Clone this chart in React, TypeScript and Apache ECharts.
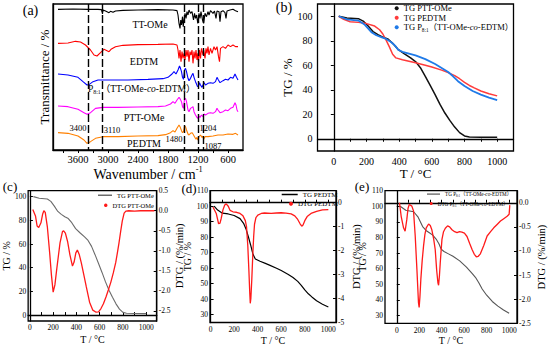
import React, { useEffect, useRef } from 'react';
import * as echarts from 'echarts';

const FONT = '"Liberation Serif", "Times New Roman", "Noto Sans CJK SC", serif';

// ---------- (a) FTIR spectra: [wavenumber cm-1, offset depth (a.u., grows downward)] ----------
const ftirTickValues = [3900, 3600, 3300, 3000, 2700, 2400, 2100, 1800, 1500, 1200, 900, 600];
const ftirLabelValues = [3600, 3000, 2400, 1800, 1200, 600];
const ftirMarkers = [3400, 3110, 1480, 1204, 1087];

const ftirTTOMe = [
  [4000, 28], [3700, 27], [3400, 28], [3200, 28], [3130, 29], [3110, 42], [3100, 30], [3050, 33], [2980, 38],
  [2950, 34], [2900, 37], [2850, 33], [2700, 31], [2400, 30], [2000, 29], [1700, 30], [1620, 32], [1600, 45],
  [1580, 70], [1560, 85], [1545, 60], [1530, 75], [1510, 50], [1495, 80], [1480, 60], [1460, 40], [1440, 55],
  [1420, 35], [1400, 45], [1380, 30], [1350, 40], [1320, 35], [1290, 60], [1270, 40], [1250, 55], [1230, 45],
  [1204, 70], [1180, 40], [1160, 55], [1140, 35], [1110, 60], [1087, 70], [1060, 40], [1030, 50], [1000, 35],
  [980, 45], [950, 32], [900, 40], [870, 33], [840, 55], [820, 33], [780, 35], [760, 65], [740, 35], [700, 32],
  [660, 38], [640, 55], [620, 33], [560, 30], [500, 28], [450, 32], [400, 35],
];
const ftirEDTM = [
  [4000, 130], [3800, 129], [3650, 124], [3550, 126], [3450, 135], [3350, 150], [3280, 165], [3220, 168],
  [3150, 158], [3080, 148], [3020, 152], [2980, 155], [2940, 148], [2850, 140], [2700, 136], [2400, 134],
  [2000, 133], [1700, 132], [1620, 135], [1600, 150], [1580, 175], [1560, 150], [1540, 185], [1520, 155],
  [1500, 175], [1480, 160], [1460, 180], [1440, 150], [1420, 170], [1400, 150], [1380, 185], [1360, 155],
  [1340, 165], [1320, 150], [1300, 190], [1280, 155], [1260, 175], [1240, 150], [1220, 180], [1204, 160],
  [1190, 185], [1170, 150], [1150, 175], [1130, 145], [1100, 165], [1087, 150], [1060, 175], [1040, 145],
  [1020, 160], [1000, 140], [980, 165], [950, 145], [920, 160], [880, 140], [850, 150], [820, 140], [790, 170],
  [770, 185], [750, 145], [700, 140], [650, 145], [600, 135], [550, 140], [500, 135], [450, 140], [400, 140],
];
const ftirP81 = [
  [4000, 222], [3800, 225], [3600, 232], [3500, 245], [3420, 255], [3380, 254], [3300, 245], [3200, 240],
  [3000, 240], [2600, 240], [2200, 238], [1900, 236], [1800, 232], [1720, 222], [1680, 215], [1640, 222],
  [1600, 210], [1570, 198], [1550, 205], [1530, 215], [1510, 232], [1490, 238], [1470, 210], [1450, 205],
  [1430, 215], [1400, 235], [1380, 242], [1350, 235], [1320, 225], [1300, 220], [1280, 232], [1250, 245],
  [1230, 252], [1210, 260], [1190, 258], [1170, 248], [1150, 255], [1120, 262], [1100, 255], [1080, 248],
  [1050, 255], [1000, 250], [950, 248], [900, 250], [850, 245], [820, 232], [800, 238], [760, 248], [700, 242],
  [650, 238], [600, 240], [550, 232], [500, 235], [460, 222], [430, 232], [400, 240],
];
const ftirPTTOMe = [
  [4000, 318], [3800, 320], [3600, 328], [3480, 338], [3420, 343], [3350, 338], [3250, 325], [3100, 322],
  [2800, 322], [2400, 321], [2000, 320], [1850, 318], [1750, 312], [1700, 305], [1660, 310], [1620, 300],
  [1580, 292], [1560, 296], [1530, 305], [1510, 320], [1490, 325], [1470, 298], [1450, 295], [1430, 305],
  [1400, 330], [1380, 335], [1350, 325], [1320, 322], [1300, 320], [1280, 335], [1250, 345], [1220, 352],
  [1204, 355], [1180, 348], [1160, 352], [1130, 345], [1100, 350], [1080, 342], [1050, 345], [1000, 340],
  [950, 338], [900, 340], [850, 335], [820, 325], [800, 330], [760, 338], [700, 335], [650, 330], [600, 332],
  [550, 325], [500, 322], [460, 308], [440, 315], [420, 330], [400, 335],
];
const ftirPEDTM = [
  [4000, 398], [3800, 400], [3600, 408], [3480, 420], [3420, 430], [3350, 425], [3250, 415], [3100, 410],
  [2800, 410], [2400, 408], [2000, 407], [1850, 404], [1750, 398], [1700, 392], [1660, 396], [1620, 385],
  [1580, 375], [1560, 380], [1530, 392], [1510, 398], [1490, 395], [1470, 378], [1450, 380], [1430, 390],
  [1400, 402], [1380, 405], [1350, 400], [1320, 398], [1300, 402], [1270, 410], [1240, 418], [1220, 412],
  [1204, 420], [1180, 410], [1150, 405], [1120, 412], [1100, 408], [1087, 418], [1060, 410], [1000, 410],
  [900, 408], [800, 405], [700, 405], [600, 402], [500, 403], [450, 400], [400, 405],
];

// ---------- TG curves: [T °C, TG %] ----------
const tgPTTOMe = [
  [30, 100], [80, 98.6], [150, 98], [180, 96], [210, 92], [240, 87.5], [270, 85], [300, 83], [330, 81.5],
  [360, 78], [393, 73], [430, 69.5], [470, 66], [500, 63], [530, 58], [560, 51], [590, 43.5], [620, 36],
  [650, 28], [680, 21], [710, 15], [740, 9.5], [770, 5], [800, 2.3], [830, 1.5], [900, 1.3], [1000, 1.2],
];
const tgPEDTM = [
  [30, 100], [60, 97.5], [100, 95.5], [150, 95], [200, 94], [250, 92], [280, 89], [300, 85.5], [320, 80.5],
  [340, 75], [360, 69], [380, 66], [420, 64.5], [460, 63.3], [500, 62], [560, 60], [600, 58.5], [660, 56],
  [700, 54], [740, 51.5], [770, 49], [800, 46], [830, 43.5], [860, 41.5], [900, 39], [950, 36.8], [1000, 35],
];
const tgP81 = [
  [30, 100], [80, 97.5], [150, 96.5], [190, 93], [230, 87], [260, 84.5], [290, 83], [320, 81.5], [350, 79],
  [375, 76], [395, 72.5], [420, 71], [460, 69.5], [500, 68], [560, 65], [620, 61], [670, 57], [700, 54.5],
  [730, 51], [760, 47], [800, 43], [850, 39], [900, 36], [950, 33.5], [1000, 31.5],
];

// ---------- DTG curves: [T °C, DTG %/min] ----------
const dtgPTTOMe = [
  [25, 0.03], [48, -0.13], [62, -0.38], [76, -0.42], [95, -0.3], [110, -0.08], [120, 0.0], [132, -0.04],
  [150, -0.4], [170, -1.05], [185, -1.6], [200, -2.03], [215, -1.85], [231, -1.45], [259, -0.8], [280, -0.52],
  [290, -0.5], [305, -0.56], [325, -0.78], [344, -1.1], [366, -1.38], [380, -1.28], [395, -1.05], [408, -0.98],
  [425, -1.1], [442, -1.3], [465, -1.62], [485, -1.9], [513, -2.28], [541, -2.48], [569, -2.53], [590, -2.52],
  [611, -2.44], [632, -2.32], [654, -2.15], [675, -1.97], [696, -1.78], [717, -1.55], [738, -1.29],
  [752, -1.05], [766, -0.8], [780, -0.52], [794, -0.26], [810, -0.06], [825, -0.01], [850, 0.0], [900, -0.01],
  [950, 0.0], [1000, 0.0], [1070, 0.0],
];
const dtgPEDTM = [
  [20, -0.18], [48, -0.45], [68, -0.88], [80, -0.85], [90, -0.66], [105, -0.3], [120, -0.1], [133, -0.05],
  [150, -0.15], [165, -0.32], [190, -0.38], [220, -0.4], [250, -0.45], [275, -0.55], [295, -0.75], [305, -1.0],
  [316, -1.8], [325, -2.8], [333, -3.8], [337, -4.2], [342, -4.0], [350, -3.2], [359, -2.1], [366, -1.4],
  [373, -0.9], [385, -0.62], [401, -0.52], [430, -0.45], [458, -0.43], [514, -0.45], [560, -0.43], [599, -0.42],
  [640, -0.44], [684, -0.47], [715, -0.55], [740, -0.7], [760, -0.88], [774, -0.98], [785, -0.93], [800, -0.75],
  [820, -0.58], [853, -0.45], [900, -0.36], [950, -0.3], [1000, -0.29],
];
const dtgP81 = [
  [24, 0.0], [39, -0.28], [60, -0.52], [74, -0.59], [89, -0.35], [100, -0.12], [110, -0.04], [122, -0.05],
  [134, -0.07], [149, -0.17], [164, -0.69], [179, -1.38], [193, -2.07], [199, -2.17], [206, -1.95], [214, -1.59],
  [226, -1.2], [238, -0.9], [250, -0.66], [262, -0.52], [283, -0.44], [298, -0.47], [312, -0.56], [328, -0.75],
  [342, -0.97], [355, -1.4], [366, -1.66], [372, -1.71], [380, -1.5], [387, -1.24], [395, -0.98], [402, -0.76],
  [416, -0.6], [432, -0.53], [452, -0.48], [470, -0.5], [491, -0.56], [515, -0.6], [536, -0.62], [558, -0.6],
  [580, -0.61], [602, -0.63], [625, -0.7], [648, -0.84], [670, -0.97], [690, -1.07], [708, -1.12], [725, -1.11],
  [744, -1.06], [775, -0.88], [804, -0.69], [835, -0.6], [863, -0.52], [893, -0.45], [923, -0.38], [952, -0.33],
  [982, -0.28], [1000, -0.24], [1006, -0.05],
];

// ---------- tick lists ----------
const tgbXTicks = [0, 100, 200, 300, 400, 500, 600, 700, 800, 900, 1000];
const tXLabels = [0, 200, 400, 600, 800, 1000];
const tgbYLabels = [0, 20, 40, 60, 80, 100];
const tgcYLabels = [0, 20, 40, 60, 80, 100];
const dtgcLabels = [0.5, 0.0, -0.5, -1.0, -1.5, -2.0, -2.5];
const tgdeYLabels = [30, 40, 50, 60, 70, 80, 90, 100, 110];
const dtgdLabels = [0, -1, -2, -3, -4, -5];
const dtgeLabels = [0.0, -0.5, -1.0, -1.5, -2.0, -2.5];

const NAME_P81 = 'P8:1（TT-OMe-co-EDTM）';
const S_TG_PTT = 'TG PTT-OMe';
const S_TG_PED = 'TG PEDTM';
const S_TG_P81 = 'TG ' + NAME_P81;
const S_DTG_PTT = 'DTG PTT-OMe';
const S_DTG_PED = 'DTG PEDTM';
const S_DTG_P81 = 'DTG ' + NAME_P81;

function rich(fs: number) {
  return {
    n: { fontSize: fs, fontFamily: FONT, color: '#000', lineHeight: fs + 2 },
    i: { fontSize: fs, fontFamily: FONT, fontStyle: 'italic', color: '#000', lineHeight: fs + 2 },
    s: { fontSize: fs * 0.62, fontFamily: FONT, color: '#000', verticalAlign: 'bottom', lineHeight: fs * 0.55 },
  };
}
function fmtName(name: string) {
  if (name.indexOf('P8:1') >= 0) {
    const pre = name.split('P8:1')[0];
    return `{n|${pre}P}{s|8:1}{n|（TT-OMe-}{i|co}{n|-EDTM）}`;
  }
  return `{n|${name}}`;
}

const BLACK = '#000';
const axLine = { show: true, lineStyle: { color: BLACK, width: 1.3 } };
const plain = (v: number) => String(v);

function xAx(grid: number, min: number, max: number, ticks: number[], labels: number[], fs: number, inside: boolean, margin: number, name: any, nameGap: number, nameFs: number, extra: any = {}) {
  return {
    type: 'value', gridIndex: grid, min, max,
    axisLine: axLine,
    axisTick: { show: true, inside, length: 3, customValues: ticks, lineStyle: { color: BLACK, width: 1 } },
    axisLabel: { customValues: labels, fontSize: fs, fontFamily: FONT, color: BLACK, margin, formatter: plain },
    splitLine: { show: false },
    name, nameLocation: 'middle', nameGap,
    nameTextStyle: { fontSize: nameFs, fontFamily: FONT, color: BLACK, rich: { n: { fontSize: nameFs, fontFamily: FONT, lineHeight: nameFs + 4 }, sup: { fontSize: nameFs * 0.6, fontFamily: FONT, verticalAlign: 'top', lineHeight: nameFs * 0.55 } } },
    ...extra,
  };
}
function yAx(grid: number, min: number, max: number, labels: number[], fs: number, inside: boolean, margin: number, name: string, nameGap: number, nameFs: number, position: string, fmt?: (v: number) => string) {
  return {
    type: 'value', gridIndex: grid, min, max, position,
    axisLine: axLine,
    axisTick: { show: true, inside, length: 3, customValues: labels, lineStyle: { color: BLACK, width: 1 } },
    axisLabel: { customValues: labels, fontSize: fs, fontFamily: FONT, color: BLACK, margin, formatter: fmt || plain },
    splitLine: { show: false },
    name, nameLocation: 'middle', nameGap, nameRotate: 90,
    nameTextStyle: { fontSize: nameFs, fontFamily: FONT, color: BLACK },
  };
}

function line(name: string, data: number[][], x: number, y: number, color: string, width: number, extra: any = {}) {
  return {
    type: 'line', name, data, xAxisIndex: x, yAxisIndex: y, color,
    showSymbol: false, symbol: 'none', smooth: false,
    lineStyle: { color, width }, z: 3, silent: true,
    ...extra,
  };
}

function legendOne(name: string, icon: string, color: string, left: number, top: number, w: number, h: number, fs: number) {
  return {
    data: [{ name, icon, itemStyle: { color }, lineStyle: { color } }],
    left, top, padding: 0, itemWidth: w, itemHeight: h, selectedMode: false,
    formatter: fmtName,
    textStyle: { fontSize: fs, fontFamily: FONT, color: BLACK, rich: rich(fs) },
  };
}

const grid = (left: number, top: number, width: number, height: number) => ({
  left, top, width, height, show: true, borderColor: BLACK, borderWidth: 1.3, backgroundColor: 'transparent', containLabel: false,
});

const GREY_C = '#6b6b6b';
const GREY_E = '#555555';
const RED = '#ff1a1a';
const RED_B = '#ff3b3b';
const BLUE_B = '#1f7ae8';

function textEl(text: string, x: number, y: number, fs: number, align = 'center', richFs?: number) {
  return {
    type: 'text', x, y, silent: true,
    style: {
      text, fontSize: fs, fontFamily: FONT, fill: BLACK, align, verticalAlign: 'middle',
      rich: richFs ? rich(richFs) : undefined,
    },
  };
}

const option: any = {
  animation: false,
  backgroundColor: '#fff',
  grid: [
    grid(53, 4, 190, 146),
    grid(317.5, 4, 196, 147),
    grid(26, 190.7, 130.7, 130.3),
    grid(210, 190.7, 126, 131.8),
    grid(385, 190.7, 132, 132.6),
  ],
  xAxis: [
    xAx(0, 300, 4100, ftirTickValues, ftirLabelValues, 10.5, false, 4, '{n|Wavenumber / cm}{sup|-1}', 12, 14, { inverse: true }),
    xAx(1, -100, 1100, tgbXTicks, tXLabels, 10, false, 5, 'T / °C', 12, 13),
    xAx(2, -15, 1090, tgbXTicks, tXLabels, 7.5, true, 3, 'T / °C', 13, 10),
    xAx(3, -5, 1065, tgbXTicks, tXLabels, 7.5, true, 3, 'T / °C', 13, 10),
    xAx(4, -105, 1070, tgbXTicks, tXLabels, 7.5, true, 3, 'T / °C', 12, 10),
  ],
  yAxis: [
    {
      type: 'value', gridIndex: 0, inverse: true, min: 12, max: 450,
      axisLine: axLine, axisTick: { show: false }, axisLabel: { show: false }, splitLine: { show: false },
      name: 'Transmittance / %', nameLocation: 'middle', nameGap: 2, nameRotate: 90,
      nameTextStyle: { fontSize: 13, fontFamily: FONT, color: BLACK },
    },
    yAx(1, -10, 110, tgbYLabels, 10, false, 5, 'TG / %', 17, 13, 'left'),
    yAx(2, -5, 105, tgcYLabels, 7.5, true, 2, 'TG / %', 12, 10, 'left'),
    yAx(2, -2.75, 0.5, dtgcLabels, 7.5, true, 2, 'DTG / (%/min)', 18, 10.5, 'right', (v) => v.toFixed(1)),
    yAx(3, 25, 110, tgdeYLabels, 7.5, true, 2, 'TG / %', 13, 10, 'left'),
    yAx(3, -5, 0.5, dtgdLabels, 7.5, true, 2, 'DTG / (%/min)', 15.5, 10.5, 'right', (v) => v.toFixed(0)),
    yAx(4, 25, 110, tgdeYLabels, 7.5, true, 2, 'TG / %', 13, 10, 'left'),
    yAx(4, -2.5, 0.25, dtgeLabels, 7.5, true, 2, 'DTG / (%/min)', 19.5, 10.5, 'right', (v) => v.toFixed(1)),
  ],
  legend: [
    {
      data: [
        { name: S_TG_PTT, icon: 'circle', itemStyle: { color: '#111' } },
        { name: S_TG_PED, icon: 'circle', itemStyle: { color: RED_B } },
        { name: S_TG_P81, icon: 'circle', itemStyle: { color: BLUE_B } },
      ],
      orient: 'vertical', left: 394.7, top: 4, padding: 0, itemGap: 1, itemWidth: 4, itemHeight: 4, selectedMode: false,
      formatter: fmtName,
      textStyle: { fontSize: 8.5, fontFamily: FONT, color: BLACK, rich: rich(8.5) },
    },
    legendOne(S_TG_PTT, 'rect', GREY_C, 98, 192, 14, 1.5, 6.5),
    legendOne(S_DTG_PTT, 'circle', RED, 104, 202, 3.5, 3.5, 6.5),
    legendOne(S_TG_PED, 'rect', BLACK, 281.7, 191, 16, 1.5, 7),
    legendOne(S_DTG_PED, 'circle', RED, 289, 200.3, 4, 4, 7),
    legendOne(S_TG_P81, 'rect', GREY_E, 427, 191.5, 13, 1.2, 5.2),
    legendOne(S_DTG_P81, 'circle', RED, 429.7, 201, 3, 3, 5.2),
  ],
  series: [
    line('TT-OMe', ftirTTOMe, 0, 0, '#000', 1.1, {
      markLine: {
        silent: true, symbol: ['none', 'none'], label: { show: false },
        lineStyle: { color: BLACK, type: [8, 3], width: 1.4 },
        data: ftirMarkers.map((v) => ({ xAxis: v })),
      },
    }),
    line('EDTM', ftirEDTM, 0, 0, '#ff0000', 1.1),
    line(NAME_P81, ftirP81, 0, 0, '#0000ff', 1.1),
    line('PTT-OMe', ftirPTTOMe, 0, 0, '#ff00ff', 1.1),
    line('PEDTM', ftirPEDTM, 0, 0, '#ff8000', 1.1),

    line(S_TG_PTT, tgPTTOMe, 1, 1, '#111', 1.5),
    line(S_TG_PED, tgPEDTM, 1, 1, RED_B, 1.5),
    line(S_TG_P81, tgP81, 1, 1, BLUE_B, 1.8),

    line(S_TG_PTT, tgPTTOMe, 2, 2, GREY_C, 1.1),
    line(S_DTG_PTT, dtgPTTOMe, 2, 3, RED, 1.3),

    line(S_TG_PED, tgPEDTM, 3, 4, BLACK, 1.2),
    line(S_DTG_PED, dtgPEDTM, 3, 5, RED, 1.3),

    line(S_TG_P81, tgP81, 4, 6, GREY_E, 1.1),
    line(S_DTG_P81, dtgP81, 4, 7, RED, 1.3),
  ],
  graphic: [
    textEl('(a)', 30.5, 10, 14),
    textEl('(b)', 284, 7.5, 14),
    textEl('(c)', 10, 186.5, 13),
    textEl('(d)', 189, 188.5, 13),
    textEl('(e)', 362, 186.5, 13),
    textEl('TT-OMe', 150, 24.5, 10),
    textEl('EDTM', 144, 61, 10),
    textEl(fmtName(NAME_P81), 88, 89, 9, 'left', 9.5),
    textEl('PTT-OMe', 144, 117, 10),
    textEl('PEDTM', 144, 143, 10),
    textEl('3400', 78, 128, 8.5),
    textEl('3110', 112, 129.5, 8.5),
    textEl('1480', 174, 139, 8.5),
    textEl('1204', 208, 127.5, 8.5),
    textEl('1087', 213, 145.5, 8.5),
  ],
};

export default function App() {
  const ref = useRef<HTMLDivElement>(null);
  useEffect(() => {
    const chart = echarts.init(ref.current as HTMLDivElement, null, { renderer: 'svg' });
    chart.setOption(option);
    return () => chart.dispose();
  }, []);
  return <div ref={ref} style={{ position: 'absolute', left: 0, top: 0, width: 550, height: 349, background: '#fff' }} />;
}
